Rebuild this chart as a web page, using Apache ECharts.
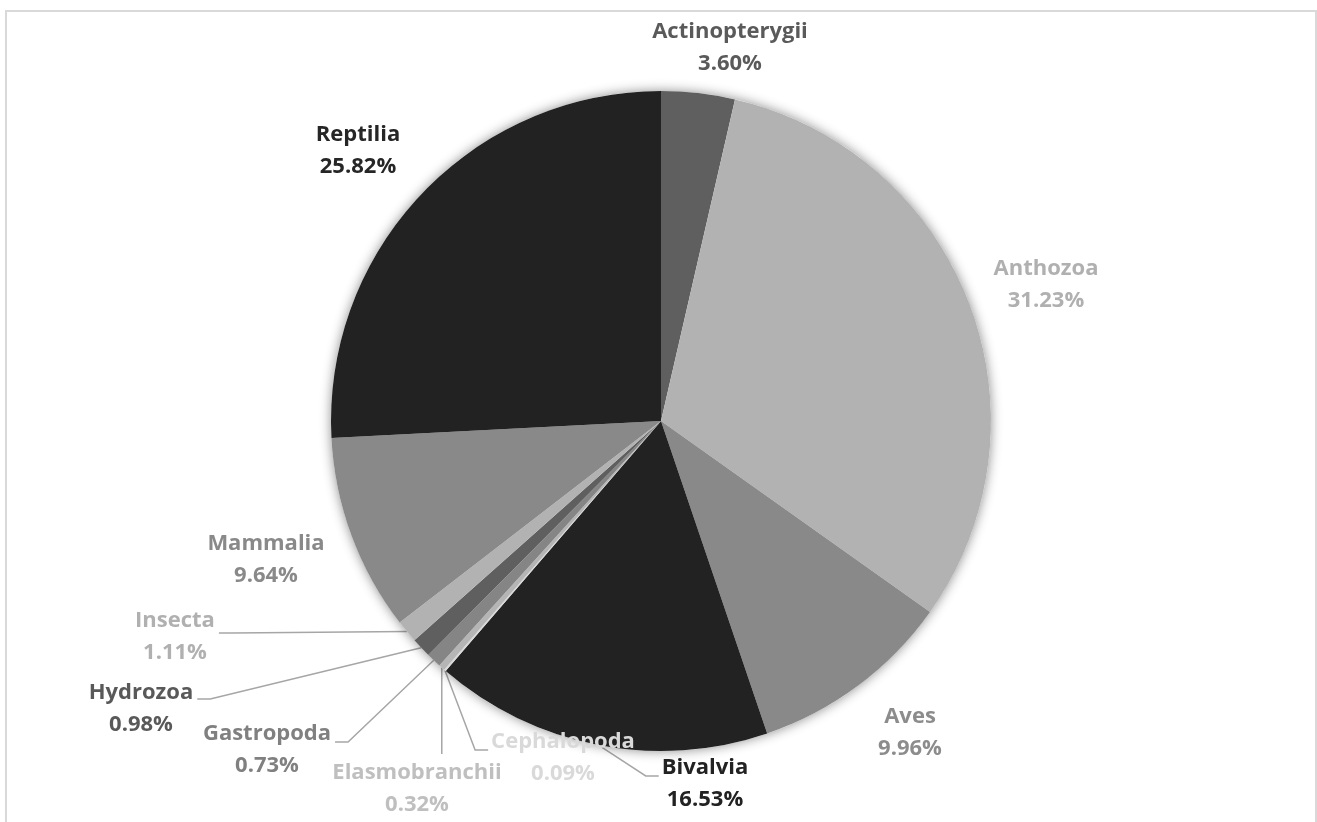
<!DOCTYPE html>
<html>
<head>
<meta charset="utf-8">
<script src="https://cdn.jsdelivr.net/npm/echarts@6/dist/echarts.min.js"></script>
<style>
  html, body { margin: 0; padding: 0; background: #fff; }
  #frame { position: absolute; left: 5px; top: 10px; width: 1308px; height: 900px;
           border: 2px solid #d9d9d9; border-bottom: none; }
  #chart { position: absolute; left: 0; top: 0; width: 1317px; height: 822px; }
</style>
</head>
<body>
<div id="frame"></div>
<div id="chart"></div>
<script>
// ---- data ----
const categories = ['Actinopterygii', 'Anthozoa', 'Aves', 'Bivalvia', 'Cephalopoda',
  'Elasmobranchii', 'Gastropoda', 'Hydrozoa', 'Insecta', 'Mammalia', 'Reptilia'];
const shares = [3.60, 31.23, 9.96, 16.53, 0.09, 0.32, 0.73, 0.98, 1.11, 9.64, 25.82];

// ---- styles ----
const sliceColors = ['#5f5f5f', '#b2b2b2', '#898989', '#222222', '#d9d9d9',
  '#b5b5b5', '#858585', '#5f5f5f', '#b2b2b2', '#898989', '#222222'];
const labelColors = ['#5a5a5a', '#b0b0b0', '#8c8c8c', '#222222', '#d9d9d9',
  '#bfbfbf', '#808080', '#595959', '#b0b0b0', '#898989', '#262626'];

// ---- label layout (label block centres, leader-line side, attach offset) ----
const labelSpots = [
  [730, 48, null, 0], [1046, 285, null, 0], [910, 733, null, 0], [705, 784, 'left', -8],
  [563, 758, 'left', -8], [417, 789, 'top', 0], [267, 750, 'right', -8], [141, 709, 'right', -10],
  [175, 637, 'right', -4], [266, 560, null, 0], [358, 151, null, 0]
];

const CX = 661, CY = 421, R = 330;

const total = shares.reduce((a, b) => a + b, 0);
const midAngles = [];
(function () {
  let acc = 0;
  shares.forEach(v => {
    midAngles.push((acc + v / 2) / total * Math.PI * 2);
    acc += v;
  });
})();

const pieData = categories.map((name, i) => ({
  name: name,
  value: shares[i],
  itemStyle: { color: sliceColors[i] },
  label: { color: labelColors[i] },
  labelLine: { show: labelSpots[i][2] !== null }
}));

const chart = echarts.init(document.getElementById('chart'), null, { renderer: 'canvas' });

chart.setOption({
  animation: false,
  backgroundColor: 'transparent',
  series: [
    {
      type: 'pie',
      silent: true,
      center: [CX, CY],
      radius: R,
      data: [{ value: 1, name: '' }],
      label: { show: false },
      labelLine: { show: false },
      itemStyle: { color: '#ffffff', shadowBlur: 12, shadowColor: 'rgba(0,0,0,0.45)' },
      emphasis: { disabled: true }
    },
    {
      type: 'pie',
      center: [CX, CY],
      radius: R,
      startAngle: 90,
      clockwise: true,
      avoidLabelOverlap: false,
      data: pieData,
      itemStyle: { borderWidth: 0 },
      emphasis: { disabled: true },
      label: {
        show: true,
        position: 'outside',
        fontFamily: '"Open Sans", sans-serif',
        fontWeight: 'bold',
        fontSize: 22,
        lineHeight: 32,
        align: 'center',
        formatter: p => p.name + '\n' + p.value.toFixed(2) + '%'
      },
      labelLine: {
        show: true,
        smooth: false,
        lineStyle: { color: '#a6a6a6', width: 1.5 }
      },
      labelLayout: function (p) {
        const i = p.dataIndex;
        const spot = labelSpots[i];
        const w = p.labelRect.width, h = p.labelRect.height;
        const res = { x: spot[0], y: spot[1], align: 'center', verticalAlign: 'middle', moveOverlap: false };
        if (spot[2]) {
          const a = midAngles[i];
          const edge = (p.labelLinePoints && p.labelLinePoints[0]) ?
            p.labelLinePoints[0] : [CX + R * Math.sin(a), CY - R * Math.cos(a)];
          const attachY = spot[1] + spot[3];
          if (spot[2] === 'right') {
            const ex = spot[0] + w / 2 + 4;
            res.labelLinePoints = [edge, [ex + 13, attachY], [ex, attachY]];
          } else if (spot[2] === 'left') {
            const ex = spot[0] - w / 2 - 3;
            res.labelLinePoints = [edge, [ex - 13, attachY], [ex, attachY]];
          } else {
            res.labelLinePoints = [edge, [edge[0], spot[1] - h / 2 - 3]];
          }
        }
        return res;
      }
    }
  ]
});
</script>
</body>
</html>
